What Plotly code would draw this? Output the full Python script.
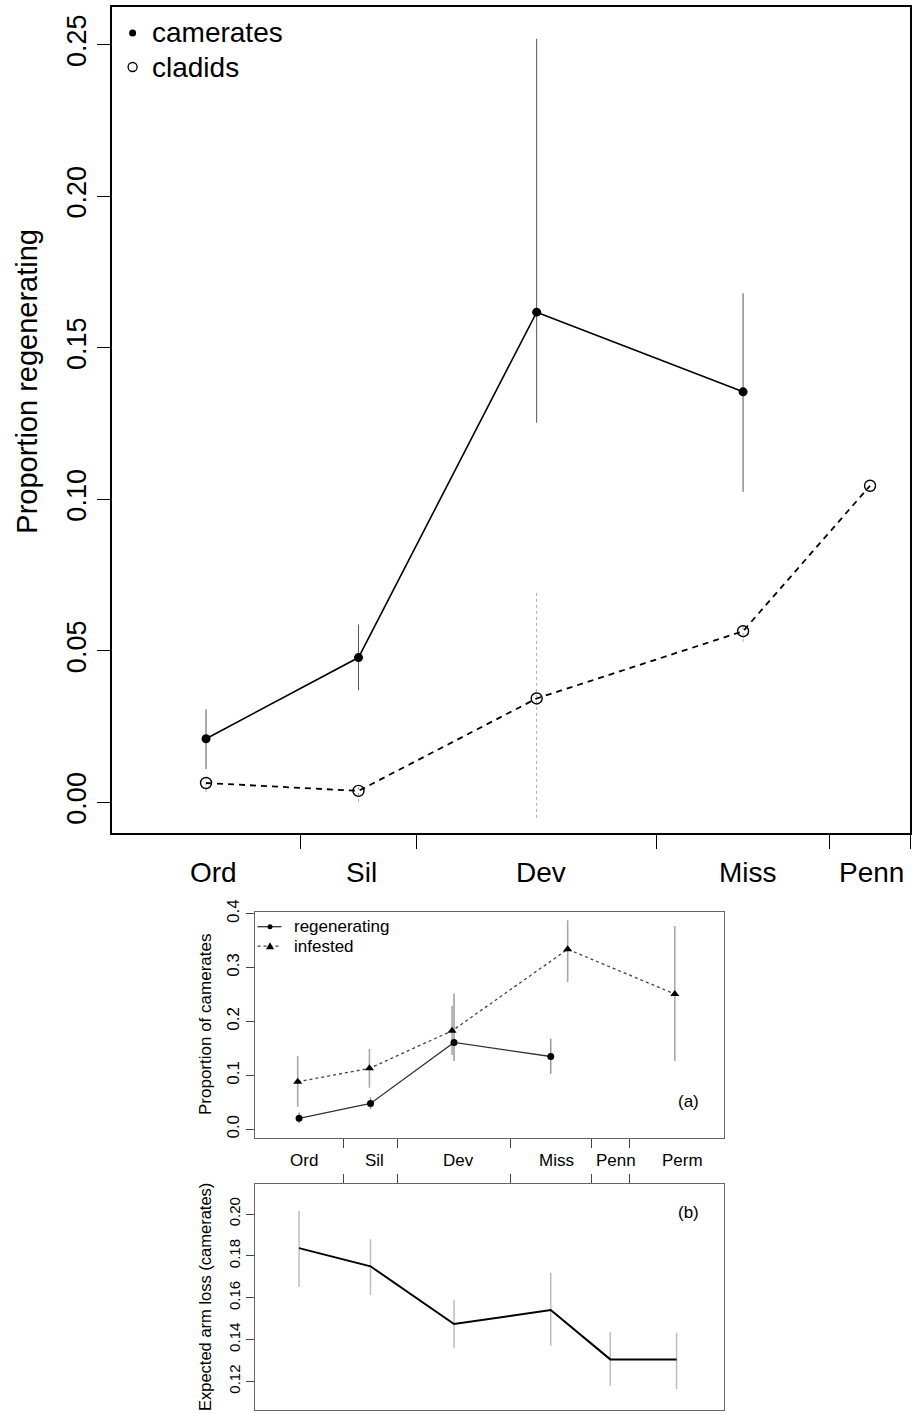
import plotly.graph_objects as go

W, H = 912, 1414
FONT = "Liberation Sans, Arial, sans-serif"

# ---------------- data ----------------
# geological period boundaries (Ma)
boundaries = [443.7, 416.0, 359.2, 318.1, 299.0]
periods_top = ["Ord", "Sil", "Dev", "Miss", "Penn"]
label_x_top = [464.2, 429.2, 386.5, 337.6, 308.3]
periods_ab = ["Ord", "Sil", "Dev", "Miss", "Penn", "Perm"]
label_x_ab = [463.5, 428.0, 385.3, 336.0, 305.6, 272.2]

# top panel
cam_x = [466.0, 429.85, 387.6, 338.65]
cam_y = [0.0210, 0.0478, 0.1618, 0.1355]
cam_lo = [0.0110, 0.0370, 0.1253, 0.1025]
cam_hi = [0.0307, 0.0587, 0.2520, 0.1680]

cla_x = [466.0, 429.85, 387.6, 338.65, 308.55]
cla_y = [0.0064, 0.0038, 0.0343, 0.0565, 0.1045]
cla_lo = [0.0035, 0.0002, -0.0051, 0.0530, None]
cla_hi = [0.0079, 0.0051, 0.0699, 0.0590, None]

# panel (a)
reg_x = [466.0, 429.85, 387.6, 338.65]
reg_y = [0.0204, 0.0480, 0.1610, 0.1350]
reg_lo = [0.0110, 0.0370, 0.1265, 0.1030]
reg_hi = [0.0310, 0.0590, 0.2519, 0.1685]

inf_x = [466.7, 430.4, 388.6, 330.1, 275.9]
inf_y = [0.0881, 0.1130, 0.1826, 0.3339, 0.2510]
inf_lo = [0.0419, 0.0770, 0.1376, 0.2733, 0.1268]
inf_hi = [0.1357, 0.1487, 0.2289, 0.3876, 0.3770]

# panel (b)
arm_x = [466.0, 429.85, 387.6, 338.65, 308.55, 275.0]
arm_y = [0.1837, 0.1750, 0.1474, 0.1541, 0.1305, 0.1305]
arm_lo = [0.1652, 0.1613, 0.1358, 0.1370, 0.1179, 0.1163]
arm_hi = [0.2016, 0.1879, 0.1589, 0.1719, 0.1436, 0.1432]


def segs(xs, lo, hi):
    X, Y = [], []
    for x, a, b in zip(xs, lo, hi):
        if a is None or b is None:
            continue
        X += [x, x, None]
        Y += [a, b, None]
    return X, Y


def py(p):  # pixel row -> paper y
    return 1 - p / H


def px(p):  # pixel col -> paper x
    return p / W


fig = go.Figure()

# ---- top panel ----
X, Y = segs(cam_x, cam_lo, cam_hi)
fig.add_trace(go.Scatter(x=X, y=Y, mode="lines", line=dict(color="#555555", width=1),
                         xaxis="x", yaxis="y", showlegend=False, hoverinfo="skip"))
X, Y = segs(cla_x, cla_lo, cla_hi)
fig.add_trace(go.Scatter(x=X, y=Y, mode="lines", line=dict(color="#aaaaaa", width=1, dash="dot"),
                         xaxis="x", yaxis="y", showlegend=False, hoverinfo="skip"))
fig.add_trace(go.Scatter(x=cam_x, y=cam_y, mode="lines+markers", name="camerates",
                         line=dict(color="black", width=1.6),
                         marker=dict(symbol="circle", size=9, color="black"),
                         xaxis="x", yaxis="y", showlegend=False))
fig.add_trace(go.Scatter(x=cla_x, y=cla_y, mode="lines+markers", name="cladids",
                         line=dict(color="black", width=1.8, dash="6px,5px"),
                         marker=dict(symbol="circle-open", size=11, color="black",
                                     line=dict(width=1.4, color="black")),
                         xaxis="x", yaxis="y", showlegend=False))

# ---- panel (a) ----
X, Y = segs(reg_x, reg_lo, reg_hi)
fig.add_trace(go.Scatter(x=X, y=Y, mode="lines", line=dict(color="#8a8a8a", width=1.3),
                         xaxis="x2", yaxis="y2", showlegend=False, hoverinfo="skip"))
X, Y = segs(inf_x, inf_lo, inf_hi)
fig.add_trace(go.Scatter(x=X, y=Y, mode="lines", line=dict(color="#a8a8a8", width=1.6),
                         xaxis="x2", yaxis="y2", showlegend=False, hoverinfo="skip"))
fig.add_trace(go.Scatter(x=reg_x, y=reg_y, mode="lines+markers", name="regenerating",
                         line=dict(color="#333333", width=1.3),
                         marker=dict(symbol="circle", size=7, color="black"),
                         xaxis="x2", yaxis="y2", showlegend=False))
fig.add_trace(go.Scatter(x=inf_x, y=inf_y, mode="lines+markers", name="infested",
                         line=dict(color="#444444", width=1.3, dash="dot"),
                         marker=dict(symbol="triangle-up", size=8, color="black"),
                         xaxis="x2", yaxis="y2", showlegend=False))

# ---- panel (b) ----
X, Y = segs(arm_x, arm_lo, arm_hi)
fig.add_trace(go.Scatter(x=X, y=Y, mode="lines", line=dict(color="#bdbdbd", width=1.5),
                         xaxis="x3", yaxis="y3", showlegend=False, hoverinfo="skip"))
fig.add_trace(go.Scatter(x=arm_x, y=arm_y, mode="lines", name="arm loss",
                         line=dict(color="black", width=2),
                         xaxis="x3", yaxis="y3", showlegend=False))

empty = [""] * len(boundaries)
common_x = dict(showgrid=False, zeroline=False, showline=True, mirror=True, automargin=False,
                tickmode="array", tickvals=boundaries, ticktext=empty, ticks="outside")
common_y = dict(showgrid=False, zeroline=False, showline=True, mirror=True, automargin=False,
                tickmode="array", ticks="outside", tickangle=-90)

fig.update_layout(
    width=W, height=H, margin=dict(l=0, r=0, t=0, b=0, pad=0, autoexpand=False),
    paper_bgcolor="white", plot_bgcolor="white",
    font=dict(family=FONT, color="black"),
    xaxis=dict(domain=[px(112), px(910.3)], range=[488.3, 299.0], anchor="y",
               linecolor="black", linewidth=1.5, ticklen=14, tickwidth=1.3, tickcolor="black",
               **common_x),
    yaxis=dict(domain=[py(833), py(7)], range=[-0.0101, 0.2625], anchor="x",
               tickvals=[0, 0.05, 0.10, 0.15, 0.20, 0.25],
               ticktext=["0.00", "0.05", "0.10", "0.15", "0.20", "0.25"],
               tickfont=dict(size=27, family=FONT), ticklen=13, tickwidth=1.3,
               tickcolor="black", linecolor="black", linewidth=1.5,
               **common_y),
    xaxis2=dict(domain=[px(255), px(724)], range=[488.3, 251.0], anchor="y2",
                linecolor="#666666", linewidth=1.3, ticklen=9, tickwidth=1.2, tickcolor="#444444",
                **common_x),
    yaxis2=dict(domain=[py(1137.7), py(912)], range=[-0.0156, 0.403], anchor="x2",
                tickvals=[0, 0.1, 0.2, 0.3, 0.4], ticktext=["0.0", "0.1", "0.2", "0.3", "0.4"],
                tickfont=dict(size=17, family=FONT), ticklen=8, tickwidth=1.2,
                tickcolor="#444444", linecolor="#666666", linewidth=1.3,
                **common_y),
    xaxis3=dict(domain=[px(255), px(724)], range=[488.3, 251.0], anchor="y3", side="top",
                linecolor="#666666", linewidth=1.3, ticklen=9, tickwidth=1.2, tickcolor="#444444",
                **common_x),
    yaxis3=dict(domain=[py(1410), py(1184.3)], range=[0.1063, 0.2142], anchor="x3",
                tickvals=[0.12, 0.14, 0.16, 0.18, 0.20],
                ticktext=["0.12", "0.14", "0.16", "0.18", "0.20"],
                tickfont=dict(size=15, family=FONT), ticklen=8, tickwidth=1.2,
                tickcolor="#444444", linecolor="#666666", linewidth=1.3,
                **common_y),
)

ann = []
for lab, x in zip(periods_top, label_x_top):
    ann.append(dict(text=lab, x=x, xref="x", y=py(872), yref="paper", showarrow=False,
                    xanchor="center", yanchor="middle", font=dict(size=28)))
for lab, x in zip(periods_ab, label_x_ab):
    ann.append(dict(text=lab, x=x, xref="x2", y=py(1160), yref="paper", showarrow=False,
                    xanchor="center", yanchor="middle", font=dict(size=17)))

# axis titles
ann.append(dict(text="Proportion regenerating", x=px(26.7), y=py(381), xref="paper", yref="paper",
                textangle=-90, showarrow=False, xanchor="center", yanchor="middle",
                font=dict(size=29)))
ann.append(dict(text="Proportion of camerates", x=px(205), y=py(1025), xref="paper", yref="paper",
                textangle=-90, showarrow=False, xanchor="center", yanchor="middle",
                font=dict(size=17)))
ann.append(dict(text="Expected arm loss (camerates)", x=px(205), y=py(1297), xref="paper",
                yref="paper", textangle=-90, showarrow=False, xanchor="center",
                yanchor="middle", font=dict(size=16.5)))

# panel tags
ann.append(dict(text="(a)", x=px(688.6), y=py(1101), xref="paper", yref="paper", showarrow=False,
                xanchor="center", yanchor="middle", font=dict(size=17)))
ann.append(dict(text="(b)", x=px(688.6), y=py(1212.3), xref="paper", yref="paper",
                showarrow=False, xanchor="center", yanchor="middle", font=dict(size=17)))

# legends text
ann.append(dict(text="camerates", x=px(150), y=py(33), xref="paper", yref="paper",
                showarrow=False, xanchor="left", yanchor="middle", font=dict(size=28)))
ann.append(dict(text="cladids", x=px(150), y=py(67), xref="paper", yref="paper",
                showarrow=False, xanchor="left", yanchor="middle", font=dict(size=28)))
ann.append(dict(text="regenerating", x=px(292), y=py(926.7), xref="paper", yref="paper",
                showarrow=False, xanchor="left", yanchor="middle", font=dict(size=17)))
ann.append(dict(text="infested", x=px(292), y=py(946.2), xref="paper", yref="paper",
                showarrow=False, xanchor="left", yanchor="middle", font=dict(size=17)))
fig.update_layout(annotations=ann)

shapes = []


def circ(xc, yc, d, fill, lw):
    return dict(type="circle", xref="paper", yref="paper", xsizemode="pixel",
                ysizemode="pixel", xanchor=px(xc), yanchor=py(yc),
                x0=-d / 2, x1=d / 2, y0=-d / 2, y1=d / 2,
                fillcolor=fill, line=dict(color="black", width=lw))


shapes.append(circ(132.6, 33, 7, "black", 0))
shapes.append(circ(132.6, 67, 9, "rgba(0,0,0,0)", 1.3))
# panel (a) legend glyphs
shapes.append(dict(type="line", xref="paper", yref="paper", x0=px(257.5), x1=px(281.5),
                   y0=py(926.7), y1=py(926.7), line=dict(color="#333333", width=1.3)))
shapes.append(circ(270, 926.7, 5, "black", 0))
shapes.append(dict(type="line", xref="paper", yref="paper", x0=px(257.5), x1=px(281.5),
                   y0=py(946.2), y1=py(946.2), line=dict(color="#444444", width=1.3, dash="dot")))
shapes.append(dict(type="path", xref="paper", yref="paper", xsizemode="pixel", ysizemode="pixel",
                   xanchor=px(270), yanchor=py(946.2), path="M -4,-3 L 4,-3 L 0,4 Z",
                   fillcolor="black", line=dict(width=0)))
fig.update_layout(shapes=shapes)

fig.write_html("out.html")
